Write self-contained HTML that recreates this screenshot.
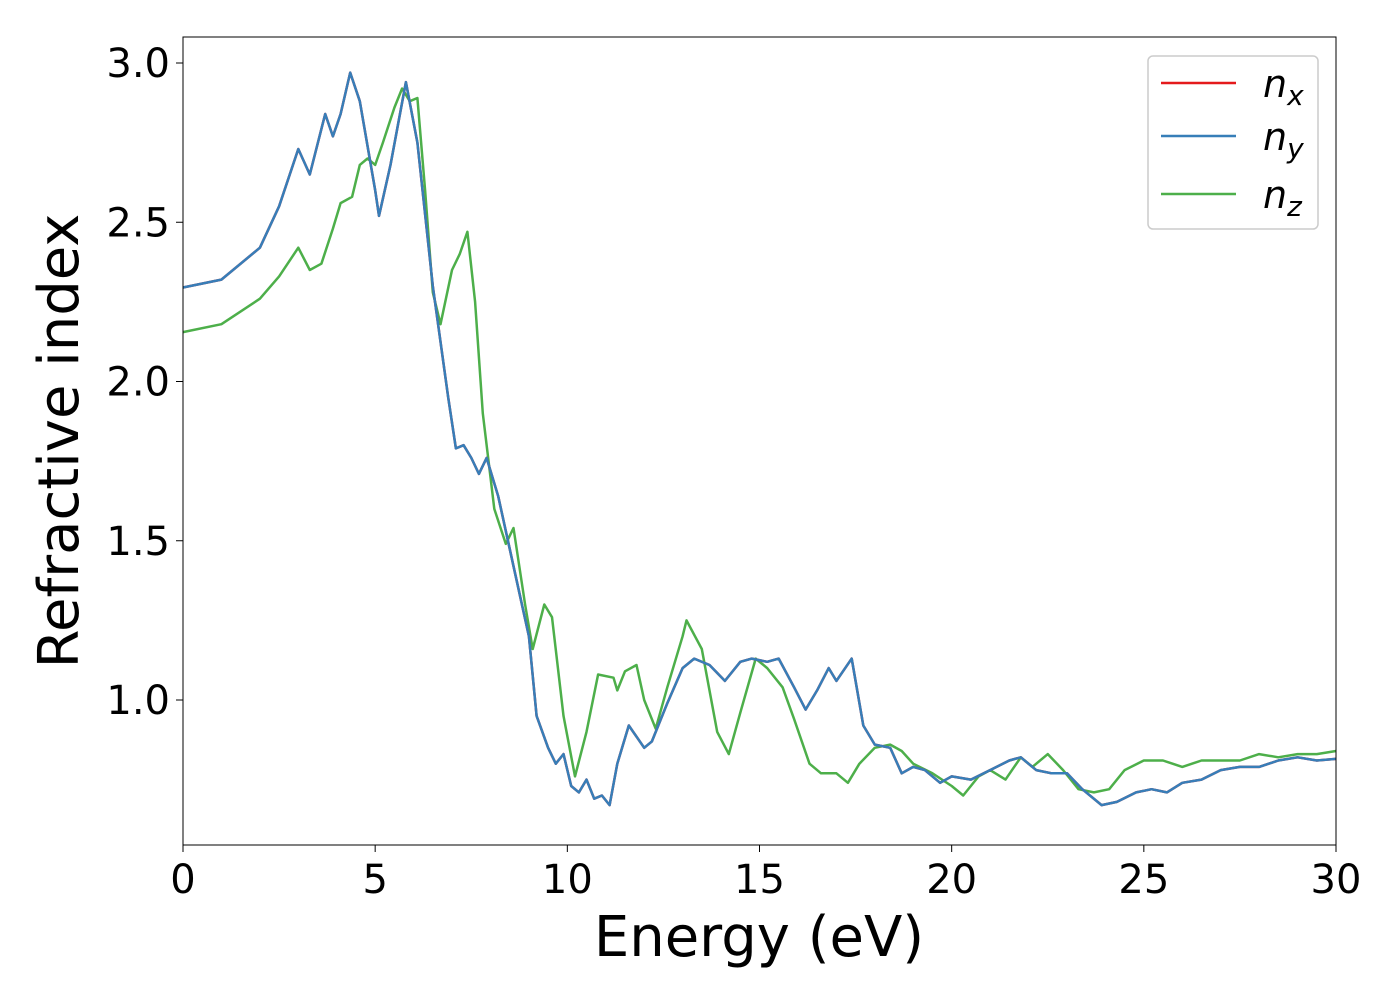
<!DOCTYPE html>
<html><head><meta charset="utf-8"><style>
body{margin:0;background:#fff}
svg text{font-family:"DejaVu Sans","Liberation Sans",sans-serif}
</style></head><body>
<svg id="chart" width="1400" height="1000" xmlns="http://www.w3.org/2000/svg">
<rect x="0" y="0" width="1400" height="1000" fill="#fff"/>
<g id="lines"></g>
<rect x="183" y="37" width="1153" height="808" fill="none" stroke="#000" stroke-width="1"/>
<g id="xt"></g>
<g id="yt"></g>
<text x="759" y="956" font-size="56" text-anchor="middle">Energy (eV)</text>
<text transform="translate(78,441) rotate(-90)" font-size="56" text-anchor="middle">Refractive index</text>
<g>
<rect x="1148" y="56" width="170" height="173" rx="5" fill="#fff" stroke="#ccc" stroke-width="1.5"/>
<line x1="1161" y1="83" x2="1236" y2="83" stroke="#e41a1c" stroke-width="2.5"/>
<text x="1263" y="97" font-size="38" font-style="italic">n<tspan font-size="28" dy="8">x</tspan></text>
<line x1="1161" y1="136" x2="1236" y2="136" stroke="#377eb8" stroke-width="2.5"/>
<text x="1263" y="150" font-size="38" font-style="italic">n<tspan font-size="28" dy="8">y</tspan></text>
<line x1="1161" y1="194" x2="1236" y2="194" stroke="#4daf4a" stroke-width="2.5"/>
<text x="1263" y="208" font-size="38" font-style="italic">n<tspan font-size="28" dy="8">z</tspan></text>
</g>
</svg>
<script>
const xyE=[0,1,2,2.5,3.0,3.3,3.7,3.9,4.1,4.35,4.6,5.0,5.1,5.4,5.8,6.1,6.5,6.9,7.1,7.3,7.5,7.7,7.9,8.2,8.6,9.0,9.2,9.5,9.7,9.9,10.1,10.3,10.5,10.7,10.9,11.1,11.3,11.6,12.0,12.2,12.6,13.0,13.3,13.7,14.1,14.5,14.8,15.2,15.5,15.9,16.2,16.5,16.8,17.0,17.4,17.7,18.0,18.4,18.7,19.0,19.3,19.7,20.0,20.5,21.0,21.5,21.8,22.2,22.6,23.0,23.4,23.9,24.3,24.8,25.2,25.6,26.0,26.5,27,27.5,28,28.5,29,29.5,30];
const nxy=[2.295,2.32,2.42,2.55,2.73,2.65,2.84,2.77,2.84,2.97,2.88,2.60,2.52,2.68,2.94,2.75,2.3,1.95,1.79,1.80,1.76,1.71,1.76,1.64,1.42,1.20,0.95,0.85,0.80,0.83,0.73,0.71,0.75,0.69,0.70,0.67,0.80,0.92,0.85,0.87,0.99,1.10,1.13,1.11,1.06,1.12,1.13,1.12,1.13,1.04,0.97,1.03,1.10,1.06,1.13,0.92,0.86,0.85,0.77,0.79,0.78,0.74,0.76,0.75,0.78,0.81,0.82,0.78,0.77,0.77,0.72,0.67,0.68,0.71,0.72,0.71,0.74,0.75,0.78,0.79,0.79,0.81,0.82,0.81,0.815];
const zE=[0,1,2,2.5,3.0,3.3,3.6,3.9,4.1,4.4,4.6,4.8,5.0,5.2,5.5,5.7,5.9,6.1,6.3,6.5,6.7,7.0,7.2,7.4,7.6,7.8,8.1,8.4,8.6,8.9,9.1,9.4,9.6,9.9,10.2,10.5,10.8,11.2,11.3,11.5,11.8,12.0,12.3,12.6,13.0,13.1,13.5,13.9,14.2,14.5,14.9,15.2,15.6,15.9,16.3,16.6,17.0,17.3,17.6,18.0,18.4,18.7,19.0,19.5,20.0,20.3,20.7,21.0,21.4,21.8,22.1,22.5,22.9,23.3,23.7,24.1,24.5,25.0,25.5,26.0,26.5,27,27.5,28,28.5,29,29.5,30];
const nz=[2.155,2.18,2.26,2.33,2.42,2.35,2.37,2.48,2.56,2.58,2.68,2.70,2.68,2.75,2.86,2.92,2.88,2.89,2.60,2.28,2.18,2.35,2.40,2.47,2.25,1.90,1.60,1.49,1.54,1.30,1.16,1.30,1.26,0.95,0.76,0.90,1.08,1.07,1.03,1.09,1.11,1.00,0.91,1.04,1.20,1.25,1.16,0.90,0.83,0.96,1.13,1.10,1.04,0.94,0.80,0.77,0.77,0.74,0.80,0.85,0.86,0.84,0.80,0.77,0.73,0.70,0.76,0.78,0.75,0.82,0.79,0.83,0.78,0.72,0.71,0.72,0.78,0.81,0.81,0.79,0.81,0.81,0.81,0.83,0.82,0.83,0.83,0.84];
const xTicks=[0,5,10,15,20,25,30];
const yTicks=[1.0,1.5,2.0,2.5,3.0];
const X=e=>183+e*(1153/30);
const Y=v=>700-(v-1)*318.5;
const NS="http://www.w3.org/2000/svg";
function path(xs,ys,color,name){
  let d="";
  xs.forEach((e,i)=>{d+=(i?"L":"M")+X(e).toFixed(1)+","+Y(ys[i]).toFixed(1);});
  const p=document.createElementNS(NS,"path");
  p.setAttribute("d",d);p.setAttribute("fill","none");p.setAttribute("stroke",color);
  p.setAttribute("stroke-width","2.5");p.setAttribute("stroke-linejoin","round");
  
  
  document.getElementById("lines").appendChild(p);
}
path(zE,nz,"#4daf4a","line-nz");
path(xyE,nxy,"#e41a1c","line-nx");
path(xyE,nxy,"#377eb8","line-ny");
const xt=document.getElementById("xt");
xTicks.forEach(t=>{
  const l=document.createElementNS(NS,"line");
  l.setAttribute("x1",X(t));l.setAttribute("x2",X(t));l.setAttribute("y1",845);l.setAttribute("y2",852);l.setAttribute("stroke","#000");
  
  
  xt.appendChild(l);
  const s=document.createElementNS(NS,"text");
  s.setAttribute("x",X(t));s.setAttribute("y",893);s.setAttribute("font-size","40");s.setAttribute("text-anchor","middle");
  s.textContent=t;
  
  
  xt.appendChild(s);
});
const yt=document.getElementById("yt");
yTicks.forEach(t=>{
  const l=document.createElementNS(NS,"line");
  l.setAttribute("x1",176);l.setAttribute("x2",183);l.setAttribute("y1",Y(t));l.setAttribute("y2",Y(t));l.setAttribute("stroke","#000");
  
  
  yt.appendChild(l);
  const s=document.createElementNS(NS,"text");
  s.setAttribute("x",170);s.setAttribute("y",Y(t)+14);s.setAttribute("font-size","40");s.setAttribute("text-anchor","end");
  s.textContent=t.toFixed(1);
  
  
  yt.appendChild(s);
});
</script>
</body></html>
